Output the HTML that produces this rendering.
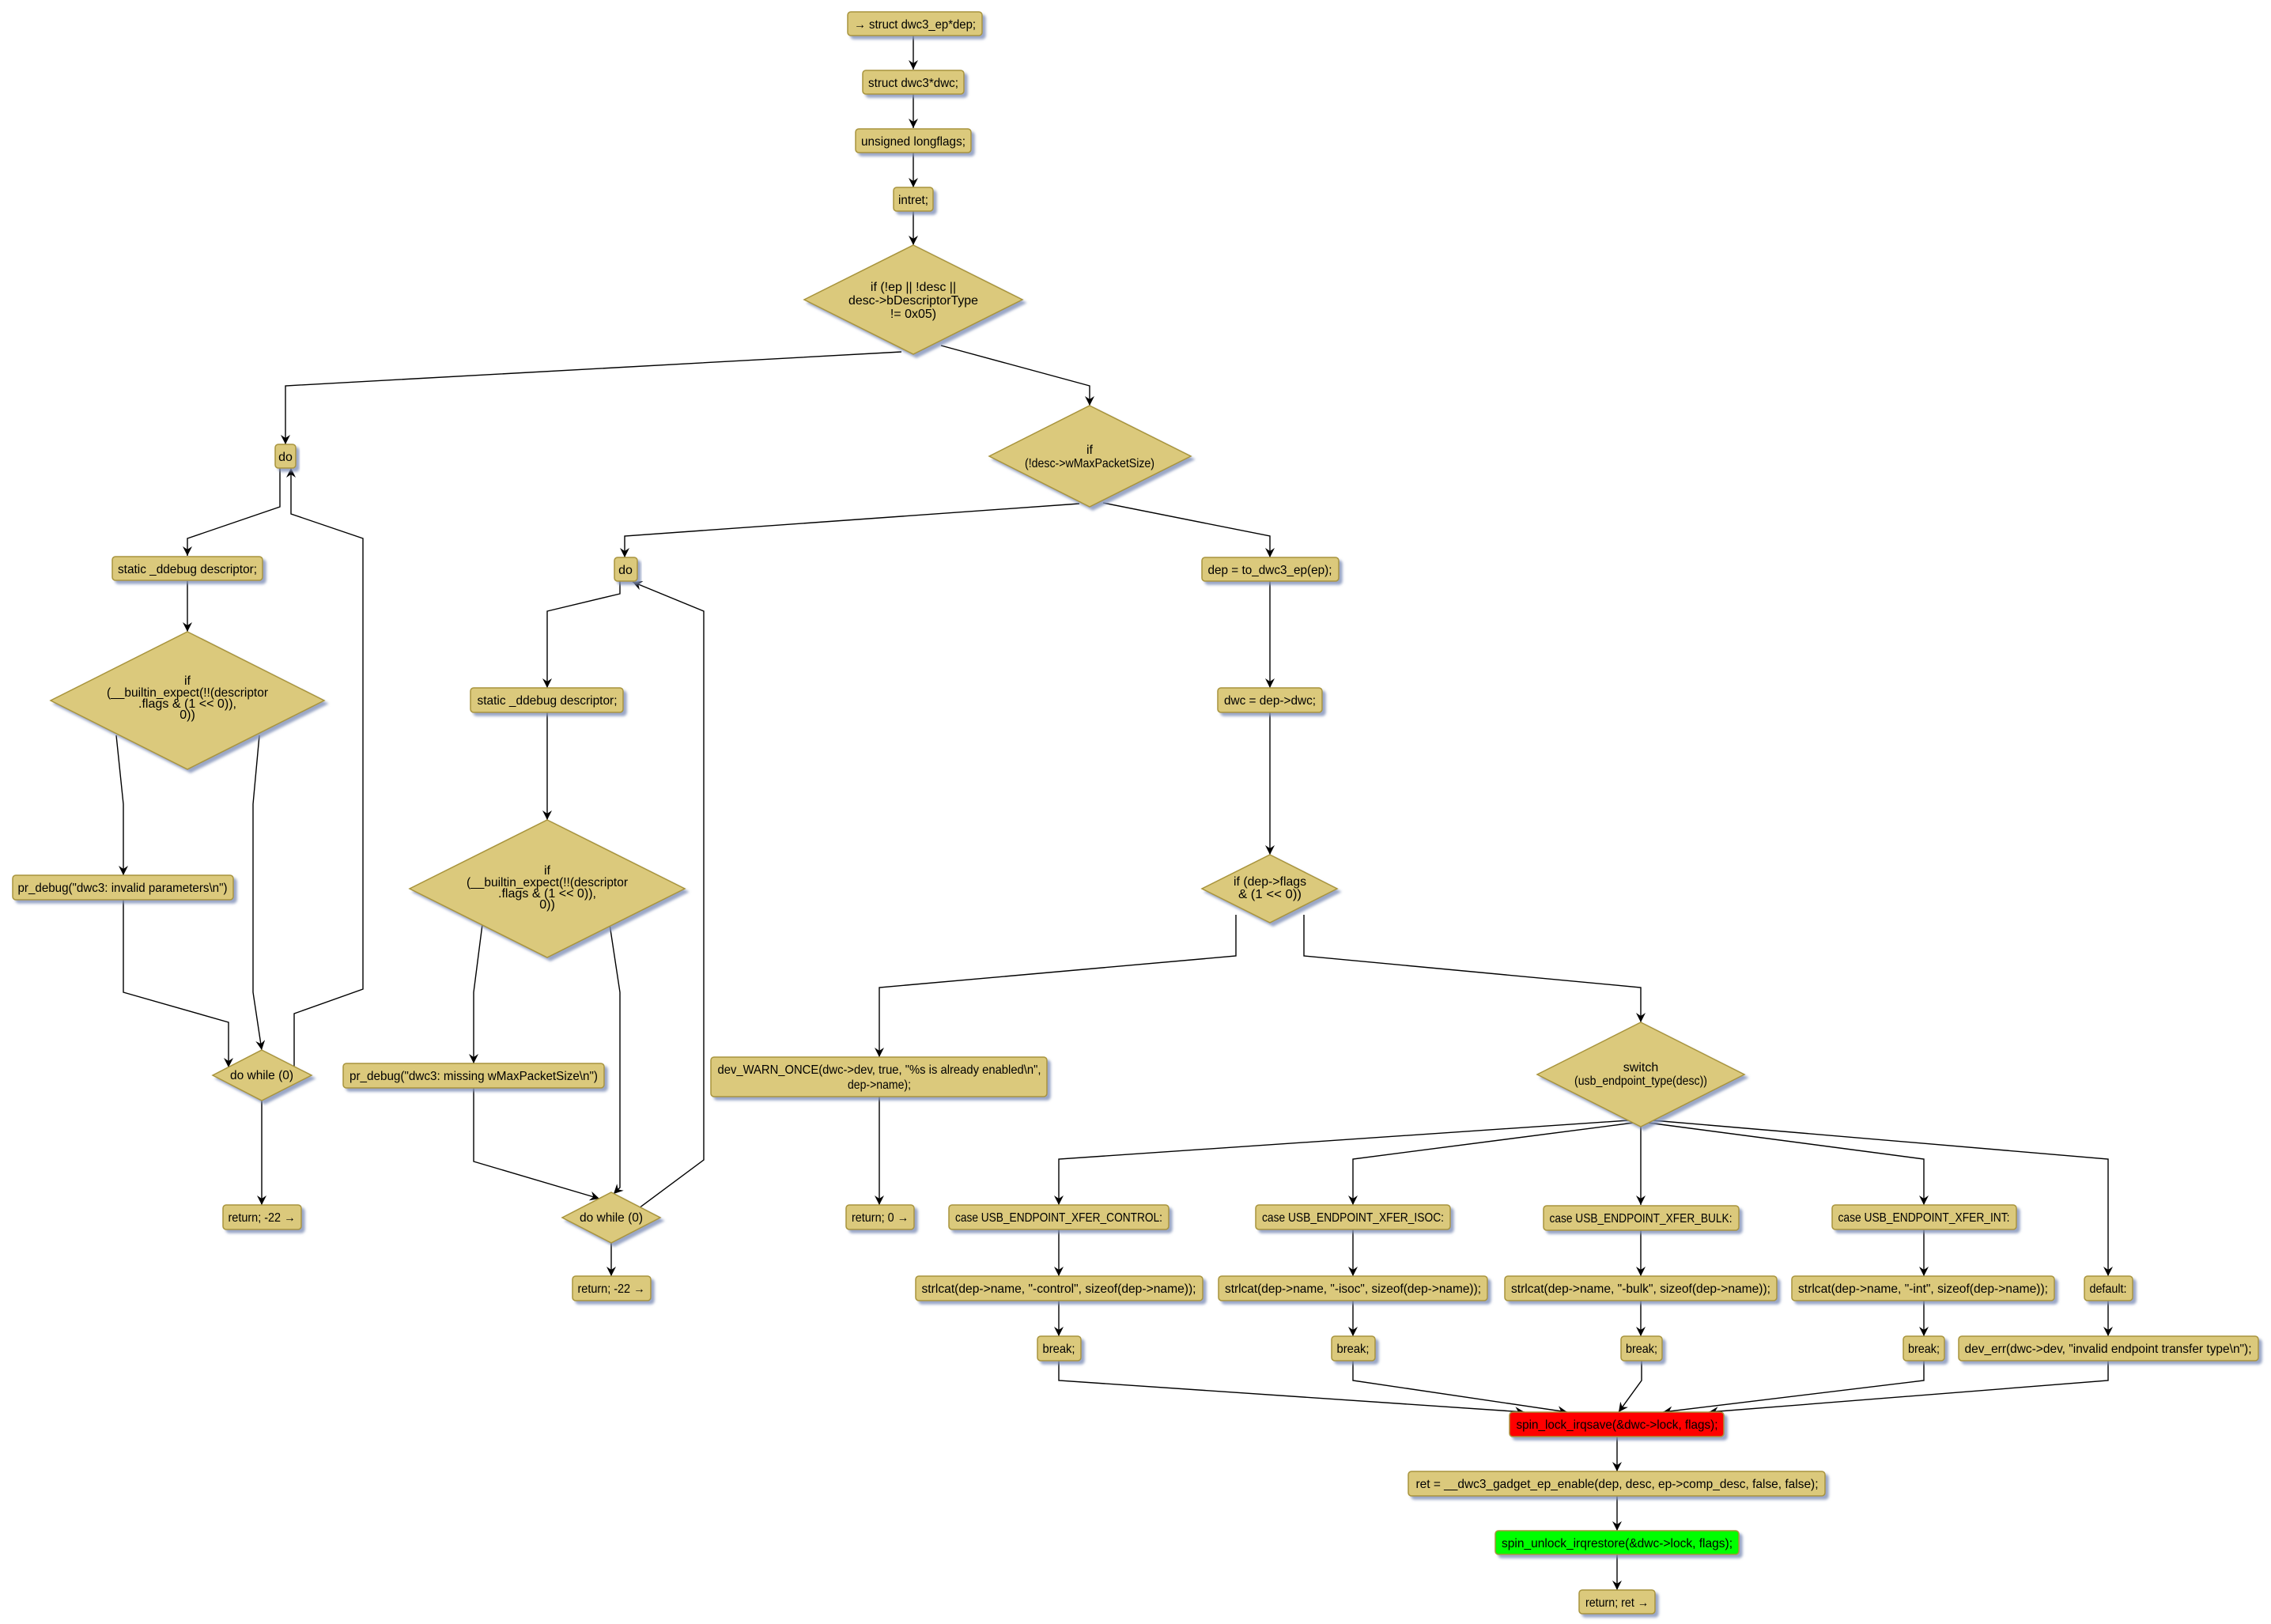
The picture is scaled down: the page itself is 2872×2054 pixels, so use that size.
<!DOCTYPE html>
<html><head><meta charset="utf-8"><style>
html,body{margin:0;padding:0;background:#fff;}
svg{display:block;}
text{font-family:"Liberation Sans","DejaVu Sans",sans-serif;font-size:16px;fill:#000;text-anchor:middle;}
.b{fill:#DBC97B;stroke:#A8943C;stroke-width:1.5;filter:url(#sh);}
.e{fill:none;stroke:#000;stroke-width:1.4;marker-end:url(#ah);}
</style></head><body>
<svg width="2872" height="2054" viewBox="0 0 2872 2054" xmlns="http://www.w3.org/2000/svg">
<defs>
<filter id="sh" x="-10%" y="-10%" width="130%" height="140%"><feDropShadow dx="4" dy="4" stdDeviation="1.5" flood-color="#8090b8" flood-opacity="0.8"/></filter>
<marker id="ah" markerWidth="14" markerHeight="14" refX="12" refY="6" orient="auto" markerUnits="userSpaceOnUse"><path d="M0,0 L12,6 L0,12 L4,6 Z" fill="#000"/></marker>
</defs>

<g>
<path class="e" d="M1155,45 V88"/>
<path class="e" d="M1155,119 V162"/>
<path class="e" d="M1155,193 V237"/>
<path class="e" d="M1155,267 V310"/>
<path class="e" d="M1140,445 L361,488 V562"/>
<path class="e" d="M1190,437 L1378,488 V513"/>
<path class="e" d="M354,592 V641 L237,681 V703"/>
<path class="e" d="M237,735 V799"/>
<path class="e" d="M147,930 L156,1017 V1107"/>
<path class="e" d="M328,930 L320,1017 V1255 L331,1328"/>
<path class="e" d="M156,1138 V1255 L289,1293 V1350"/>
<path class="e" d="M331,1392 V1524"/>
<path class="e" d="M372,1349 V1282 L459,1251 V681 L368,650 V592"/>
<path class="e" d="M1365,637 L790,678 V705"/>
<path class="e" d="M1395,636 L1606,678 V705"/>
<path class="e" d="M784,735 V751 L692,773 V870"/>
<path class="e" d="M692,901 V1037"/>
<path class="e" d="M610,1169 L599,1255 V1345"/>
<path class="e" d="M771,1169 L784,1255 V1502 L776,1510"/>
<path class="e" d="M599,1376 V1469 L758,1516"/>
<path class="e" d="M773,1572 V1614"/>
<path class="e" d="M808,1528 L890,1467 V773 L800,736"/>
<path class="e" d="M1606,735 V870"/>
<path class="e" d="M1606,901 V1081"/>
<path class="e" d="M1563,1157 V1209 L1112,1249 V1337"/>
<path class="e" d="M1649,1157 V1209 L2075,1249 V1293"/>
<path class="e" d="M1112,1387 V1524"/>
<path class="e" d="M2060,1417 L1339,1466 V1524"/>
<path class="e" d="M2066,1420 L1711,1466 V1524"/>
<path class="e" d="M2075,1425 V1524"/>
<path class="e" d="M2084,1420 L2433,1466 V1524"/>
<path class="e" d="M2090,1417 L2666,1466 V1614"/>
<path class="e" d="M1339,1555 V1614"/>
<path class="e" d="M1711,1555 V1614"/>
<path class="e" d="M2075,1556 V1614"/>
<path class="e" d="M2433,1555 V1614"/>
<path class="e" d="M1339,1645 V1690"/>
<path class="e" d="M1711,1645 V1690"/>
<path class="e" d="M2075,1645 V1690"/>
<path class="e" d="M2433,1645 V1690"/>
<path class="e" d="M2666,1645 V1690"/>
<path class="e" d="M1339,1721 V1746 L1928,1786"/>
<path class="e" d="M1711,1721 V1746 L1982,1786"/>
<path class="e" d="M2076,1721 V1746 L2047,1786"/>
<path class="e" d="M2433,1721 V1746 L2103,1786"/>
<path class="e" d="M2666,1721 V1746 L2161,1786"/>
<path class="e" d="M2045,1817 V1861"/>
<path class="e" d="M2045,1892 V1936"/>
<path class="e" d="M2045,1966 V2011"/>
</g>

<rect class="b" x="1072" y="15" width="170" height="30" rx="4"/><text x="1157" y="36" textLength="154" lengthAdjust="spacingAndGlyphs">→ struct dwc3_ep*dep;</text>
<rect class="b" x="1091" y="89" width="128" height="30" rx="4"/><text x="1155" y="110" textLength="114" lengthAdjust="spacingAndGlyphs">struct dwc3*dwc;</text>
<rect class="b" x="1082" y="163" width="146" height="30" rx="4"/><text x="1155" y="184" textLength="132" lengthAdjust="spacingAndGlyphs">unsigned longflags;</text>
<rect class="b" x="1130" y="237" width="50" height="30" rx="4"/><text x="1155" y="258" textLength="38" lengthAdjust="spacingAndGlyphs">intret;</text>
<polygon class="b" points="1155,310 1293,379 1155,448 1017,379"/>
<text x="1155" y="368" font-size="15">if (!ep || !desc ||</text>
<text x="1155" y="385" textLength="164" lengthAdjust="spacingAndGlyphs">desc-&gt;bDescriptorType</text>
<text x="1155" y="402">!= 0x05)</text>

<rect class="b" x="348" y="562" width="26" height="30" rx="4"/><text x="361" y="583">do</text>
<rect class="b" x="142" y="704" width="190" height="30" rx="4"/><text x="237" y="725" textLength="176" lengthAdjust="spacingAndGlyphs">static _ddebug descriptor;</text>
<polygon class="b" points="237,799 410,886 237,973 64,886"/>
<text x="237" y="866">if</text>
<text x="237" y="881" textLength="204" lengthAdjust="spacingAndGlyphs">(__builtin_expect(!!(descriptor</text>
<text x="237" y="895" textLength="124" lengthAdjust="spacingAndGlyphs">.flags &amp; (1 &lt;&lt; 0)),</text>
<text x="237" y="909">0))</text>
<rect class="b" x="16" y="1107" width="279" height="31" rx="4"/><text x="155" y="1128" textLength="265" lengthAdjust="spacingAndGlyphs">pr_debug("dwc3: invalid parameters\n")</text>
<polygon class="b" points="331,1328 394,1360 331,1392 269,1360"/>
<text x="331" y="1365" font-size="15" textLength="80" lengthAdjust="spacingAndGlyphs">do while (0)</text>
<rect class="b" x="282" y="1524" width="99" height="31" rx="4"/><text x="331" y="1545" textLength="85" lengthAdjust="spacingAndGlyphs">return; -22 →</text>

<polygon class="b" points="1378,513 1506,577 1378,641 1251,577"/>
<text x="1378" y="574">if</text>
<text x="1378" y="591" textLength="164" lengthAdjust="spacingAndGlyphs">(!desc-&gt;wMaxPacketSize)</text>

<rect class="b" x="777" y="705" width="29" height="30" rx="4"/><text x="791" y="726">do</text>
<rect class="b" x="595" y="870" width="193" height="31" rx="4"/><text x="692" y="891" textLength="177" lengthAdjust="spacingAndGlyphs">static _ddebug descriptor;</text>
<polygon class="b" points="692,1037 866,1124 692,1211 518,1124"/>
<text x="692" y="1106">if</text>
<text x="692" y="1121" textLength="204" lengthAdjust="spacingAndGlyphs">(__builtin_expect(!!(descriptor</text>
<text x="692" y="1135" textLength="124" lengthAdjust="spacingAndGlyphs">.flags &amp; (1 &lt;&lt; 0)),</text>
<text x="692" y="1149">0))</text>
<rect class="b" x="434" y="1345" width="330" height="31" rx="4"/><text x="599" y="1366" textLength="314" lengthAdjust="spacingAndGlyphs">pr_debug("dwc3: missing wMaxPacketSize\n")</text>
<polygon class="b" points="773,1508 835,1540 773,1572 711,1540"/>
<text x="773" y="1545" font-size="15" textLength="80" lengthAdjust="spacingAndGlyphs">do while (0)</text>
<rect class="b" x="724" y="1614" width="99" height="31" rx="4"/><text x="773" y="1635" textLength="85" lengthAdjust="spacingAndGlyphs">return; -22 →</text>

<rect class="b" x="1520" y="705" width="173" height="30" rx="4"/><text x="1606" y="726" textLength="157" lengthAdjust="spacingAndGlyphs">dep = to_dwc3_ep(ep);</text>
<rect class="b" x="1540" y="870" width="132" height="31" rx="4"/><text x="1606" y="891" textLength="116" lengthAdjust="spacingAndGlyphs">dwc = dep-&gt;dwc;</text>
<polygon class="b" points="1606,1081 1691,1124 1606,1167 1520,1124"/>
<text x="1606" y="1120" textLength="92" lengthAdjust="spacingAndGlyphs">if (dep-&gt;flags</text>
<text x="1606" y="1136" textLength="80" lengthAdjust="spacingAndGlyphs">&amp; (1 &lt;&lt; 0))</text>
<rect class="b" x="899" y="1337" width="425" height="50" rx="4"/>
<text x="1112" y="1358" textLength="409" lengthAdjust="spacingAndGlyphs">dev_WARN_ONCE(dwc-&gt;dev, true, "%s is already enabled\n",</text>
<text x="1112" y="1377" textLength="80" lengthAdjust="spacingAndGlyphs">dep-&gt;name);</text>
<rect class="b" x="1070" y="1524" width="86" height="31" rx="4"/><text x="1113" y="1545" textLength="72" lengthAdjust="spacingAndGlyphs">return; 0 →</text>

<polygon class="b" points="2075,1293 2206,1359 2075,1425 1944,1359"/>
<text x="2075" y="1355">switch</text>
<text x="2075" y="1372" textLength="168" lengthAdjust="spacingAndGlyphs">(usb_endpoint_type(desc))</text>

<rect class="b" x="1200" y="1524" width="278" height="31" rx="4"/><text x="1339" y="1545" textLength="262" lengthAdjust="spacingAndGlyphs">case USB_ENDPOINT_XFER_CONTROL:</text>
<rect class="b" x="1588" y="1524" width="246" height="31" rx="4"/><text x="1711" y="1545" textLength="230" lengthAdjust="spacingAndGlyphs">case USB_ENDPOINT_XFER_ISOC:</text>
<rect class="b" x="1952" y="1525" width="247" height="31" rx="4"/><text x="2075" y="1546" textLength="231" lengthAdjust="spacingAndGlyphs">case USB_ENDPOINT_XFER_BULK:</text>
<rect class="b" x="2317" y="1524" width="233" height="31" rx="4"/><text x="2433" y="1545" textLength="217" lengthAdjust="spacingAndGlyphs">case USB_ENDPOINT_XFER_INT:</text>

<rect class="b" x="1158" y="1614" width="363" height="31" rx="4"/><text x="1339" y="1635" textLength="347" lengthAdjust="spacingAndGlyphs">strlcat(dep-&gt;name, "-control", sizeof(dep-&gt;name));</text>
<rect class="b" x="1541" y="1614" width="340" height="31" rx="4"/><text x="1711" y="1635" textLength="324" lengthAdjust="spacingAndGlyphs">strlcat(dep-&gt;name, "-isoc", sizeof(dep-&gt;name));</text>
<rect class="b" x="1903" y="1614" width="344" height="31" rx="4"/><text x="2075" y="1635" textLength="328" lengthAdjust="spacingAndGlyphs">strlcat(dep-&gt;name, "-bulk", sizeof(dep-&gt;name));</text>
<rect class="b" x="2266" y="1614" width="332" height="31" rx="4"/><text x="2432" y="1635" textLength="316" lengthAdjust="spacingAndGlyphs">strlcat(dep-&gt;name, "-int", sizeof(dep-&gt;name));</text>
<rect class="b" x="2636" y="1614" width="61" height="31" rx="4"/><text x="2666" y="1635" textLength="47" lengthAdjust="spacingAndGlyphs">default:</text>

<rect class="b" x="1312" y="1690" width="55" height="31" rx="4"/><text x="1339" y="1711" textLength="41" lengthAdjust="spacingAndGlyphs">break;</text>
<rect class="b" x="1684" y="1690" width="55" height="31" rx="4"/><text x="1711" y="1711" textLength="41" lengthAdjust="spacingAndGlyphs">break;</text>
<rect class="b" x="2050" y="1690" width="52" height="31" rx="4"/><text x="2076" y="1711" textLength="40" lengthAdjust="spacingAndGlyphs">break;</text>
<rect class="b" x="2407" y="1690" width="52" height="31" rx="4"/><text x="2433" y="1711" textLength="40" lengthAdjust="spacingAndGlyphs">break;</text>
<rect class="b" x="2477" y="1690" width="379" height="31" rx="4"/><text x="2666" y="1711" textLength="363" lengthAdjust="spacingAndGlyphs">dev_err(dwc-&gt;dev, "invalid endpoint transfer type\n");</text>

<rect class="b" x="1909" y="1786" width="271" height="31" rx="4" style="fill:#FF0000"/><text x="2045" y="1807" textLength="255" lengthAdjust="spacingAndGlyphs">spin_lock_irqsave(&amp;dwc-&gt;lock, flags);</text>
<rect class="b" x="1781" y="1861" width="527" height="31" rx="4"/><text x="2045" y="1882" textLength="509" lengthAdjust="spacingAndGlyphs">ret = __dwc3_gadget_ep_enable(dep, desc, ep-&gt;comp_desc, false, false);</text>
<rect class="b" x="1891" y="1936" width="308" height="30" rx="4" style="fill:#00FF00"/><text x="2045" y="1957" textLength="292" lengthAdjust="spacingAndGlyphs">spin_unlock_irqrestore(&amp;dwc-&gt;lock, flags);</text>
<rect class="b" x="1997" y="2011" width="96" height="30" rx="4"/><text x="2045" y="2032" textLength="80" lengthAdjust="spacingAndGlyphs">return; ret →</text>
</svg>
</body></html>
